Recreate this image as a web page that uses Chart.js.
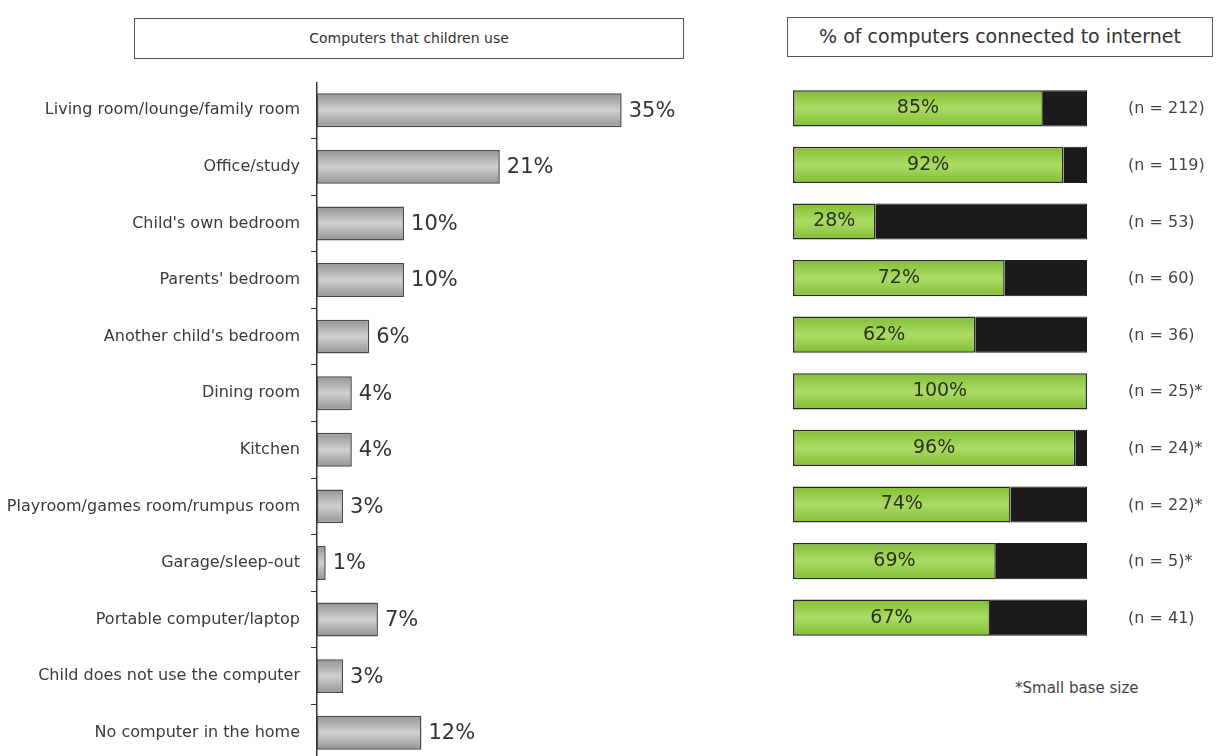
<!DOCTYPE html>
<html>
<head>
<meta charset="utf-8">
<script src="https://cdn.jsdelivr.net/npm/chart.js@4/dist/chart.umd.min.js"></script>
<style>
    body { margin: 0; background: #fff; width: 1216px; height: 756px; overflow: hidden; position: relative; font-family: "DejaVu Sans", sans-serif; color: #333; }
    .caja { position: absolute; border: 1.5px solid #555; box-sizing: border-box; text-align: center; background: #fff; }
    #tituloIzq { left: 134px; top: 18px; width: 550px; height: 41px; line-height: 38px; font-size: 14px; }
    #tituloDer { left: 787px; top: 17px; width: 426px; height: 40px; line-height: 37px; font-size: 19px; }
    #nota { position: absolute; left: 1015px; top: 679px; font-size: 15px; color: #444; }
    #wrapIzq { position: absolute; left: 0; top: 82px; width: 700px; height: 679px; }
    #wrapDer { position: absolute; left: 780px; top: 80px; width: 436px; height: 566px; }
</style>
</head>
<body>
<div class="caja" id="tituloIzq">Computers that children use</div>
<div class="caja" id="tituloDer">% of computers connected to internet</div>
<div id="wrapIzq"><canvas id="graficoUso"></canvas></div>
<div id="wrapDer"><canvas id="graficoInternet"></canvas></div>
<div id="nota">*Small base size</div>

<script>
const ubicaciones = [
    'Living room/lounge/family room',
    'Office/study',
    "Child's own bedroom",
    "Parents' bedroom",
    "Another child's bedroom",
    'Dining room',
    'Kitchen',
    'Playroom/games room/rumpus room',
    'Garage/sleep-out',
    'Portable computer/laptop',
    'Child does not use the computer',
    'No computer in the home'
];
const usoNinos = [35, 21, 10, 10, 6, 4, 4, 3, 1, 7, 3, 12];

const conectados = [85, 92, 28, 72, 62, 100, 96, 74, 69, 67];
const muestras = ['(n = 212)', '(n = 119)', '(n = 53)', '(n = 60)', '(n = 36)', '(n = 25)*', '(n = 24)*', '(n = 22)*', '(n = 5)*', '(n = 41)'];
const sinConexion = conectados.map(function (v) { return 100 - v; });

const FUENTE = '"DejaVu Sans", sans-serif';

// degradado vertical por barra, claro al centro
function degradado(chart, index, grosor, borde, centro) {
    const area = chart.chartArea;
    const y = chart.scales.y;
    if (!area || !y) return centro;
    const yc = y.getPixelForValue(index);
    const g = chart.ctx.createLinearGradient(0, yc - grosor / 2, 0, yc + grosor / 2);
    g.addColorStop(0, borde);
    g.addColorStop(0.5, centro);
    g.addColorStop(1, borde);
    return g;
}

const etiquetasUso = {
    id: 'etiquetasUso',
    afterDatasetsDraw: function (chart) {
        const ctx = chart.ctx;
        const meta = chart.getDatasetMeta(0);
        ctx.save();
        ctx.font = '21px ' + FUENTE;
        ctx.fillStyle = '#333';
        ctx.textBaseline = 'middle';
        ctx.textAlign = 'left';
        meta.data.forEach(function (bar, i) {
            ctx.fillText(usoNinos[i] + '%', bar.x + 7, bar.y + 1);
        });
        ctx.restore();
    }
};

const etiquetasInternet = {
    id: 'etiquetasInternet',
    afterDatasetsDraw: function (chart) {
        const ctx = chart.ctx;
        const meta = chart.getDatasetMeta(0);
        ctx.save();
        ctx.textBaseline = 'middle';
        meta.data.forEach(function (bar, i) {
            ctx.font = '19px ' + FUENTE;
            ctx.fillStyle = '#2b3318';
            ctx.textAlign = 'center';
            ctx.fillText(conectados[i] + '%', (bar.x + bar.base) / 2, bar.y);
            ctx.font = '16px ' + FUENTE;
            ctx.fillStyle = '#444';
            ctx.textAlign = 'left';
            ctx.fillText(muestras[i], chart.chartArea.right + 41, bar.y + 1);
        });
        ctx.restore();
    }
};

new Chart(document.getElementById('graficoUso'), {
    type: 'bar',
    data: {
        labels: ubicaciones,
        datasets: [{
            data: usoNinos,
            backgroundColor: function (c) {
                return degradado(c.chart, c.dataIndex, 34, '#939393', '#d0d0d0');
            },
            borderColor: '#4a4a4a',
            borderWidth: 1.5,
            borderSkipped: false,
            barPercentage: 0.6,
            categoryPercentage: 1
        }]
    },
    options: {
        indexAxis: 'y',
        responsive: true,
        maintainAspectRatio: false,
        animation: false,
        layout: { padding: 0 },
        plugins: {
            legend: { display: false },
            tooltip: { enabled: false }
        },
        scales: {
            x: { display: false, min: 0, max: 44 },
            y: {
                afterFit: function (scale) {
                    scale.width = 317;
                    scale.paddingTop = 0;
                    scale.paddingBottom = 0;
                },
                grid: {
                    display: true,
                    drawOnChartArea: false,
                    drawTicks: true,
                    tickLength: 6,
                    color: '#333',
                    offset: true
                },
                border: { display: true, color: '#333', width: 1.5 },
                ticks: {
                    color: '#3a3a3a',
                    padding: 11,
                    font: { family: FUENTE, size: 16 }
                }
            }
        }
    },
    plugins: [etiquetasUso]
});

new Chart(document.getElementById('graficoInternet'), {
    type: 'bar',
    data: {
        labels: muestras,
        datasets: [{
            data: conectados,
            backgroundColor: function (c) {
                return degradado(c.chart, c.dataIndex, 36, '#82bf33', '#acdb68');
            },
            borderColor: '#2a2a2a',
            borderWidth: 1.5,
            borderSkipped: false,
            barPercentage: 0.64,
            categoryPercentage: 1
        }, {
            data: sinConexion,
            backgroundColor: '#1b1b1b',
            borderColor: '#1b1b1b',
            borderWidth: 1,
            barPercentage: 0.64,
            categoryPercentage: 1
        }]
    },
    options: {
        indexAxis: 'y',
        responsive: true,
        maintainAspectRatio: false,
        animation: false,
        layout: { padding: { left: 13, right: 129, top: 0, bottom: 0 } },
        plugins: {
            legend: { display: false },
            tooltip: { enabled: false }
        },
        scales: {
            x: { display: false, stacked: true, min: 0, max: 100 },
            y: { display: false, stacked: true }
        }
    },
    plugins: [etiquetasInternet]
});
</script>
</body>
</html>
